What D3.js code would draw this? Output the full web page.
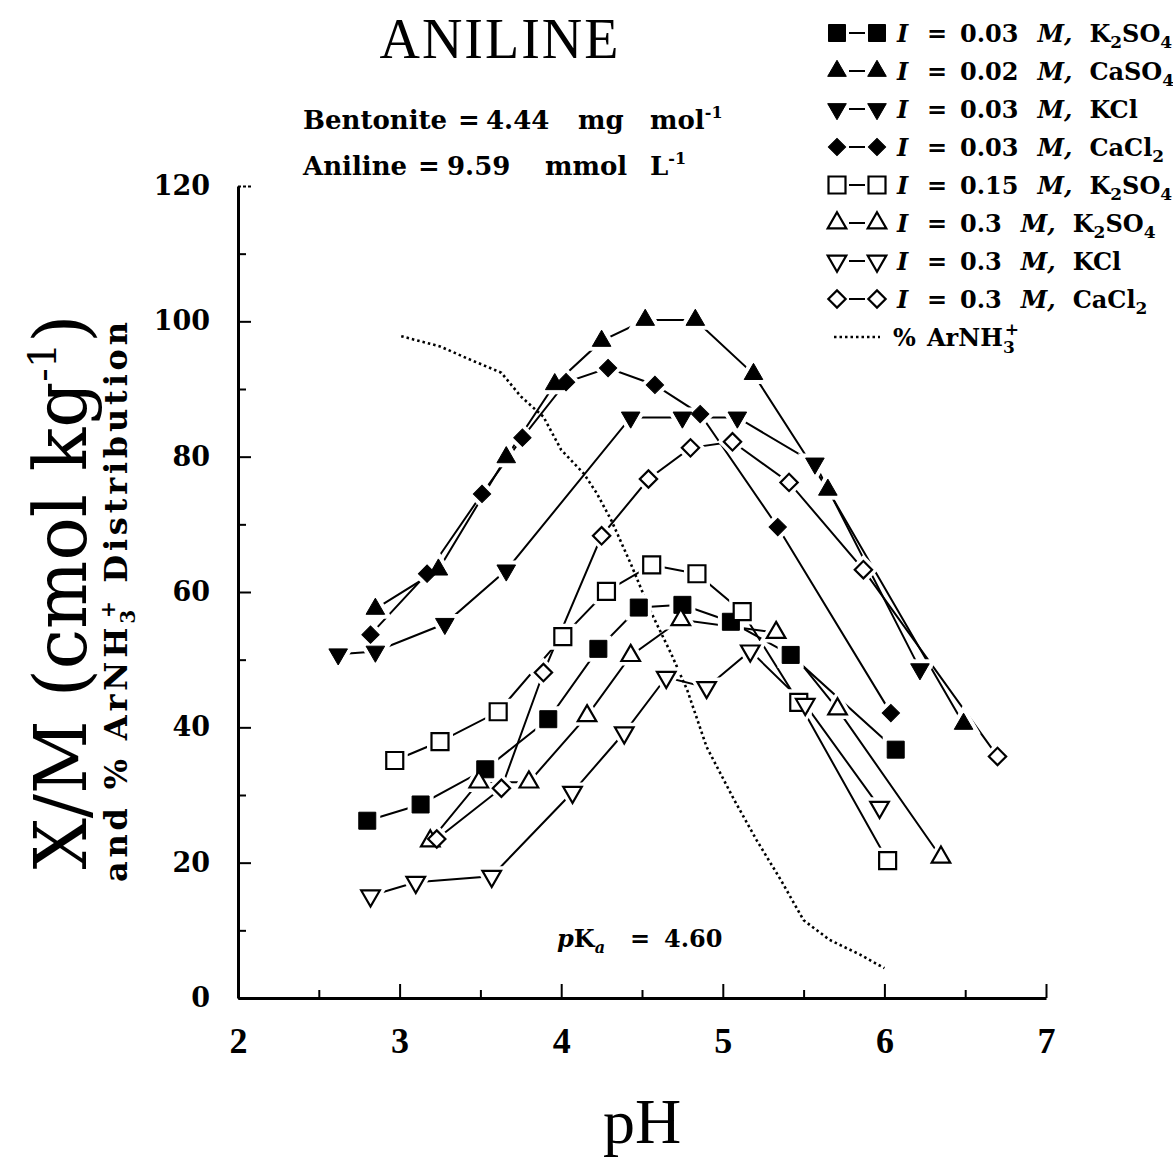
<!DOCTYPE html>
<html>
<head>
<meta charset="utf-8">
<script src="https://cdn.jsdelivr.net/npm/d3@7"></script>
<style>
  body { margin: 0; background: #fff; }
  svg { display: block; }
  text { fill: #000; }
</style>
</head>
<body>
<svg></svg>
<script>
const width = 1173;
const height = 1157;

// ---- data (pH, X/M in cmol/kg) ----
const xTicks = [2, 3, 4, 5, 6, 7];
const xMinor = [2.5, 3.5, 4.5, 5.5, 6.5];
const yTicks = [0, 20, 40, 60, 80, 100, 120];
const yMinor = [10, 30, 50, 70, 90, 110];

const k2so4_003 = [[2.80, 26.2], [3.13, 28.6], [3.53, 33.8], [3.92, 41.2], [4.23, 51.6],
  [4.48, 57.7], [4.75, 58.1], [5.05, 55.6], [5.42, 50.7], [6.07, 36.7]];
const caso4_002 = [[2.85, 57.5], [3.24, 63.3], [3.66, 79.9], [3.96, 90.7], [4.25, 97.1],
  [4.52, 100.2], [4.83, 100.2], [5.19, 92.2], [5.65, 75.1], [6.49, 40.5]];
const kcl_003 = [[2.62, 50.8], [2.85, 51.2], [3.28, 55.3], [3.66, 63.2], [4.43, 85.8],
  [4.75, 85.8], [5.09, 85.8], [5.57, 79.0], [6.22, 48.6]];
const cacl2_003 = [[2.82, 53.7], [3.17, 62.7], [3.51, 74.5], [3.76, 82.8], [4.03, 91.0],
  [4.29, 93.1], [4.58, 90.6], [4.86, 86.3], [5.34, 69.6], [6.04, 42.1]];
const k2so4_015 = [[2.97, 35.1], [3.25, 37.9], [3.61, 42.3], [4.01, 53.4], [4.28, 60.1],
  [4.56, 64.0], [4.84, 62.7], [5.12, 57.1], [5.47, 43.7], [6.02, 20.3]];
const k2so4_03 = [[3.19, 23.2], [3.49, 31.9], [3.80, 31.9], [4.16, 41.7], [4.43, 50.6],
  [4.74, 55.9], [5.33, 54.0], [5.71, 42.7], [6.35, 20.8]];
const kcl_03 = [[2.82, 15.1], [3.10, 17.1], [3.57, 18.0], [4.07, 30.4], [4.39, 39.2],
  [4.65, 47.4], [4.90, 45.9], [5.17, 51.3], [5.51, 43.4], [5.97, 28.2]];
const cacl2_03 = [[3.23, 23.5], [3.63, 31.0], [3.89, 48.1], [4.25, 68.3], [4.54, 76.7],
  [4.80, 81.3], [5.06, 82.2], [5.41, 76.2], [5.87, 63.3], [6.70, 35.7]];

// % ArNH3+ distribution (dotted)
const arnhPH = [3.01, 3.25, 3.44, 3.63, 3.75, 3.89, 4.00, 4.14, 4.22, 4.31, 4.43,
  4.55, 4.68, 4.78, 4.90, 5.07, 5.21, 5.36, 5.50, 5.66, 5.85, 6.00];
const arnhPct = [97.8, 96.3, 94.3, 92.4, 88.9, 85.9, 81.0, 77.5, 74.6, 70.6, 64.2,
  57.3, 50.9, 45.5, 37.1, 29.3, 23.3, 17.4, 11.5, 8.6, 6.4, 4.4];

const K2SO4 = [["K", 0], ["2", 1], ["SO", 0], ["4", 1]];
const series = [
  { data: k2so4_003, shape: "square", filled: true, conc: "0.03", salt: K2SO4 },
  { data: caso4_002, shape: "up", filled: true, conc: "0.02", salt: [["CaSO", 0], ["4", 1]] },
  { data: kcl_003, shape: "down", filled: true, conc: "0.03", salt: [["KCl", 0]] },
  { data: cacl2_003, shape: "diamond", filled: true, conc: "0.03", salt: [["CaCl", 0], ["2", 1]] },
  { data: k2so4_015, shape: "square", filled: false, conc: "0.15", salt: K2SO4 },
  { data: k2so4_03, shape: "up", filled: false, conc: "0.3", salt: K2SO4 },
  { data: kcl_03, shape: "down", filled: false, conc: "0.3", salt: [["KCl", 0]] },
  { data: cacl2_03, shape: "diamond", filled: false, conc: "0.3", salt: [["CaCl", 0], ["2", 1]] }
];

const serif = "'DejaVu Serif', serif";
const roman = "'Liberation Serif', 'Times New Roman', serif";

const svg = d3.select("svg").attr("width", width).attr("height", height);

const xScale = d3.scaleLinear().domain([2, 7]).range([238, 1046]);
const yScale = d3.scaleLinear().domain([0, 120]).range([998, 186]);

function symbolPath(shape) {
  if (shape === "square") return d3.symbol(d3.symbolSquare, 289)();
  if (shape === "diamond") return d3.symbol(d3.symbolSquare, 150)();
  return d3.symbol(d3.symbolTriangle, 150)();
}
function symbolRotation(shape) {
  if (shape === "down") return 180;
  if (shape === "diamond") return 45;
  return 0;
}

// ---- axes ----
const xAxis = svg.append("g")
  .attr("transform", `translate(0, ${yScale(0)})`)
  .call(d3.axisBottom(xScale).tickValues(xTicks).tickFormat(d3.format("d"))
    .tickSizeInner(-14).tickSizeOuter(0).tickPadding(29));
xAxis.selectAll("text")
  .style("font-family", roman).style("font-weight", "bold").style("font-size", "36px");

svg.append("g")
  .attr("transform", `translate(0, ${yScale(0)})`)
  .call(d3.axisBottom(xScale).tickValues(xMinor).tickSizeInner(-8).tickSizeOuter(0).tickFormat(""))
  .select(".domain").remove();

const yAxis = svg.append("g")
  .attr("transform", `translate(${xScale(2)}, 0)`)
  .call(d3.axisLeft(yScale).tickValues(yTicks).tickSizeInner(-13).tickSizeOuter(0).tickPadding(28));
yAxis.selectAll("text")
  .style("font-family", serif).style("font-weight", "bold").style("font-size", "27px");
yAxis.selectAll(".tick").filter((d) => d === 120).select("line")
  .attr("stroke-dasharray", "3,2");

svg.append("g")
  .attr("transform", `translate(${xScale(2)}, 0)`)
  .call(d3.axisLeft(yScale).tickValues(yMinor).tickSizeInner(-8).tickSizeOuter(0).tickFormat(""))
  .select(".domain").remove();

svg.selectAll(".domain").attr("stroke-width", 3);
svg.selectAll(".tick line").attr("stroke-width", 2);

// ---- dotted distribution curve ----
const arnh = arnhPH.map((p, i) => [p, arnhPct[i]]);
svg.append("path")
  .datum(arnh)
  .attr("fill", "none")
  .attr("stroke", "#000")
  .attr("stroke-width", 2.6)
  .attr("stroke-dasharray", "2.5,3")
  .attr("d", d3.line().x((d) => xScale(d[0])).y((d) => yScale(d[1])));

// ---- series lines ----
const line = d3.line().x((d) => xScale(d[0])).y((d) => yScale(d[1]));
series.forEach((s) => {
  svg.append("path")
    .datum(s.data)
    .attr("fill", "none")
    .attr("stroke", "#000")
    .attr("stroke-width", 2)
    .attr("d", line);
});

// white halos give the small gaps where lines meet the markers
series.forEach((s) => {
  svg.append("g").selectAll("path")
    .data(s.data)
    .enter()
    .append("path")
    .attr("d", symbolPath(s.shape))
    .attr("transform", (d) => `translate(${xScale(d[0])}, ${yScale(d[1])}) rotate(${symbolRotation(s.shape)})`)
    .attr("fill", "#fff")
    .attr("stroke", "#fff")
    .attr("stroke-width", 9);
});

series.forEach((s) => {
  svg.append("g").selectAll("path")
    .data(s.data)
    .enter()
    .append("path")
    .attr("d", symbolPath(s.shape))
    .attr("transform", (d) => `translate(${xScale(d[0])}, ${yScale(d[1])}) rotate(${symbolRotation(s.shape)})`)
    .attr("fill", s.filled ? "#000" : "#fff")
    .attr("stroke", "#000")
    .attr("stroke-width", s.filled ? 1 : 2.2);
});

// ---- legend ----
const legend = svg.append("g")
  .style("font-family", serif).style("font-weight", "bold").style("font-size", "24px");

series.forEach((s, i) => {
  const ly = 33 + i * 38;
  [837, 877].forEach((lx) => {
    legend.append("path")
      .attr("d", symbolPath(s.shape))
      .attr("transform", `translate(${lx}, ${ly}) rotate(${symbolRotation(s.shape)})`)
      .attr("fill", s.filled ? "#000" : "#fff")
      .attr("stroke", "#000")
      .attr("stroke-width", s.filled ? 1 : 2.2);
  });
  legend.append("line")
    .attr("x1", 849).attr("x2", 865).attr("y1", ly).attr("y2", ly)
    .attr("stroke", "#000").attr("stroke-width", 2);

  const t = legend.append("text").attr("x", 897).attr("y", ly + 9);
  t.append("tspan").style("font-style", "italic").text("I");
  t.append("tspan").attr("x", 927).text("=");
  t.append("tspan").attr("x", 960).text(s.conc);
  t.append("tspan").attr("dx", 19).style("font-style", "italic").text("M,");
  let shift = 0;
  s.salt.forEach((part, j) => {
    const ts = t.append("tspan").text(part[0]);
    if (j === 0) ts.attr("dx", 17);
    if (part[1]) {
      ts.style("font-size", "17px").attr("dy", 6 - shift);
      shift = 6;
    } else if (shift) {
      ts.attr("dy", -shift);
      shift = 0;
    }
  });
});

const arY = 33 + 8 * 38;
legend.append("line")
  .attr("x1", 834).attr("x2", 880).attr("y1", arY).attr("y2", arY)
  .attr("stroke", "#000").attr("stroke-width", 2.6).attr("stroke-dasharray", "2.5,3");
const at = legend.append("text").attr("x", 893).attr("y", arY + 9);
at.append("tspan").text("%");
at.append("tspan").attr("x", 927).text("ArNH");
at.append("tspan").style("font-size", "17px").attr("dy", 7).text("3");
at.append("tspan").style("font-size", "17px").attr("dx", -10).attr("dy", -18).text("+");

// ---- annotations ----
const notes = svg.append("g")
  .style("font-family", serif).style("font-weight", "bold").style("font-size", "26px");
const n1 = notes.append("text").attr("y", 129);
n1.append("tspan").attr("x", 303).text("Bentonite");
n1.append("tspan").attr("x", 458).text("=");
n1.append("tspan").attr("x", 486).text("4.44");
n1.append("tspan").attr("x", 578).text("mg");
n1.append("tspan").attr("x", 650).text("mol");
n1.append("tspan").style("font-size", "16px").attr("dy", -11).text("-1");
const n2 = notes.append("text").attr("y", 175);
n2.append("tspan").attr("x", 303).text("Aniline");
n2.append("tspan").attr("x", 418).text("=");
n2.append("tspan").attr("x", 447).text("9.59");
n2.append("tspan").attr("x", 545).text("mmol");
n2.append("tspan").attr("x", 650).text("L");
n2.append("tspan").style("font-size", "16px").attr("dy", -11).text("-1");

const pk = notes.append("text").attr("x", 557).attr("y", 947).style("font-size", "24px");
pk.append("tspan").style("font-style", "italic").text("p");
pk.append("tspan").text("K");
pk.append("tspan").style("font-style", "italic").style("font-size", "16px").attr("dy", 6).text("a");
pk.append("tspan").attr("x", 630).attr("dy", -6).text("=");
pk.append("tspan").attr("x", 664).text("4.60");

// ---- titles ----
svg.append("text")
  .attr("x", 500).attr("y", 58)
  .attr("text-anchor", "middle")
  .style("font-family", roman).style("font-size", "56px").style("letter-spacing", "2px")
  .text("ANILINE");

svg.append("text")
  .attr("x", 642).attr("y", 1143)
  .attr("text-anchor", "middle")
  .style("font-family", roman).style("font-size", "64px")
  .text("pH");

const yl = svg.append("text")
  .attr("transform", "translate(86, 592) rotate(-90)")
  .attr("text-anchor", "middle")
  .style("font-family", serif).style("font-size", "72px");
yl.append("tspan").text("X/M (cmol kg");
yl.append("tspan").style("font-size", "40px").attr("dy", -30).text("-1");
yl.append("tspan").attr("dy", 30).text(")");

const yl2 = svg.append("text")
  .attr("transform", "translate(127, 602) rotate(-90)")
  .attr("text-anchor", "middle")
  .attr("textLength", 560)
  .attr("lengthAdjust", "spacing")
  .style("font-family", serif).style("font-weight", "bold").style("font-size", "32px");
yl2.append("tspan").text("and % ArNH");
yl2.append("tspan").style("font-size", "20px").attr("dy", 8).text("3");
yl2.append("tspan").style("font-size", "20px").attr("dx", -12).attr("dy", -20).text("+");
yl2.append("tspan").attr("dy", 12).text(" Distribution");
</script>
</body>
</html>
